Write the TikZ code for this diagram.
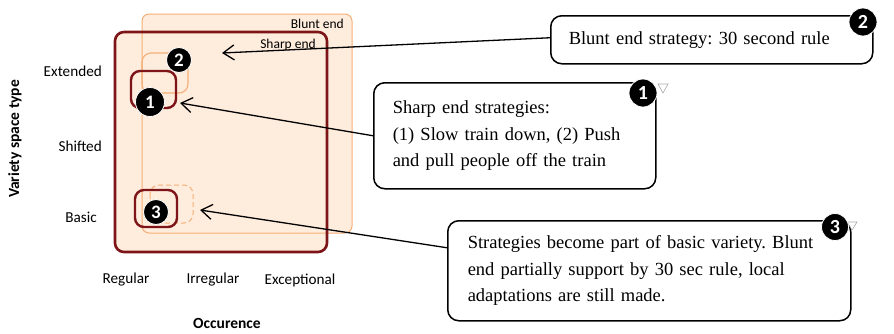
\documentclass[tikz,border=0pt]{standalone}
\usepackage{fontspec}
\setmainfont{Liberation Serif}
\setsansfont{Carlito}
\usetikzlibrary{arrows.meta}

\definecolor{peach}{RGB}{254,236,220}
\definecolor{bluntline}{RGB}{246,175,120}
\definecolor{sharpline}{RGB}{125,20,24}

\tikzset{
  axislabel/.style={font=\sffamily\fontsize{15.2}{17}\selectfont, inner sep=0pt},
  axistitle/.style={font=\sffamily\bfseries\fontsize{15.5}{17}\selectfont, inner sep=0pt},
  zonelabel/.style={font=\sffamily\fontsize{13.5}{15}\selectfont, inner sep=0pt},
  bluntzone/.style={draw=bluntline, line width=1pt, rounded corners=7pt},
  sharpzone/.style={draw=sharpline, line width=2.6pt, rounded corners=9pt},
  callout/.style={draw=black, line width=1.5pt, rounded corners=11pt, fill=white,
    font=\frenchspacing\fontsize{18.5}{26.5}\selectfont, align=left, anchor=north west},
  badge/.style={circle, fill=black, draw=white, line width=0.8pt, text=white,
    font=\sffamily\bfseries\fontsize{20}{20}\selectfont, inner sep=0pt, minimum size=28pt},
  smallbadge/.style={badge, font=\sffamily\bfseries\fontsize{19}{19}\selectfont},
  pointer/.style={draw=black, line width=1.3pt, -{Straight Barb[length=11pt, width=15pt, line width=1.3pt]}},
  marker/.style={draw=black!35, line width=0.6pt}
}

\begin{document}
\begin{tikzpicture}[x=1pt, y=-1pt]
\useasboundingbox (0,0) rectangle (894,333);

% the two zones: blunt end (orange) and sharp end (dark red)
\fill[peach, rounded corners=7pt] (142,14) rectangle (352,233);
\fill[peach, rounded corners=9pt] (115,32) rectangle (327,252);
\draw[bluntzone] (142,14) rectangle (352,233);

\node[zonelabel, anchor=east] (bluntlbl) at (344,24) {Blunt end};
\node[zonelabel, anchor=east] (sharplbl) at (316,45) {Sharp end};

% regions of the individual strategies
\draw[draw=bluntline, line width=1.1pt, rounded corners=9pt] (142,53) rectangle (188,93);
\draw[sharpzone, line width=2.4pt] (131,71) rectangle (176,108);
\draw[draw=bluntline, line width=1pt, dashed, dash pattern=on 5pt off 3pt, rounded corners=9pt] (150,185) rectangle (193,223);
\draw[sharpzone, line width=2.4pt] (135,190) rectangle (177,227);

\draw[sharpzone] (115,32) rectangle (327,252);

\node[smallbadge, minimum size=25pt] (m2) at (179,60) {2};
\node[smallbadge, minimum size=29pt] (m1) at (150,102) {1};
\node[smallbadge, minimum size=25pt] (m3) at (156,212) {3};

% axes
\node[axislabel, anchor=east] (ext) at (102,71) {Extended};
\node[axislabel, anchor=east] (shi) at (102,146) {Shifted};
\node[axislabel, anchor=east] (bas) at (97,217) {Basic};
\node[axistitle, rotate=90] (vst) at (15,139) {Variety space type};
\node[axislabel] (reg) at (126,280) {Regular};
\node[axislabel] (irr) at (213,280) {Irregular};
\node[axislabel] (exc) at (300,280) {Exceptional};
\node[axistitle] (occ) at (227,323) {Occurence};

% call-outs
\node[callout, inner xsep=18pt, text width=286pt, minimum height=48pt] (b2) at (550,15)
  {Blunt end strategy: 30 second rule};
\node[callout, inner xsep=19pt, text width=244pt, minimum height=106pt] (b1) at (373,82)
  {Sharp end strategies:\\(1) Slow train down, (2) Push\\and pull people off the train};
\node[callout, inner xsep=20pt, text width=363pt, minimum height=100pt] (b3) at (447,220)
  {Strategies become part of basic variety. Blunt\\end partially support by 30 sec rule, local\\adaptations are still made.};

% small drop-down markers next to the badges
\draw[marker] (658,84) -- (668,84) -- (663,93) -- cycle;
\draw[marker] (847,222) -- (857,222) -- (852,230) -- cycle;

\node[badge] (n2) at (863,22) {2};
\node[badge] (n1) at (643,93) {1};
\node[badge, minimum size=27pt] (n3) at (835,227) {3};

% pointers from the call-outs into the diagram
\coordinate (t2) at (222,53);
\coordinate (t1) at (180,103);
\coordinate (t3) at (200,210);
\draw[pointer] ([yshift=2pt]b2.west) -- (t2);
\draw[pointer] (b1.west) -- (t1);
\draw[pointer] ([yshift=23pt]b3.west) -- (t3);
\end{tikzpicture}
\end{document}
